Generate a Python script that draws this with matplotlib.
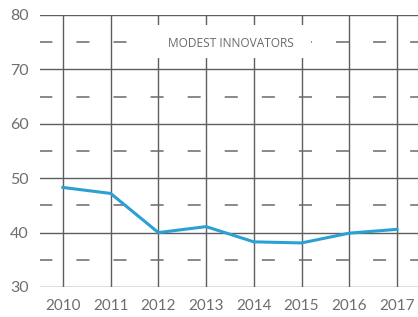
import matplotlib
matplotlib.use("Agg")
import matplotlib.pyplot as plt
from matplotlib.patches import Rectangle

years = [2010, 2011, 2012, 2013, 2014, 2015, 2016, 2017]
values = [48.3, 47.2, 40.0, 41.1, 38.3, 38.1, 39.9, 40.6]
yticks = [30, 40, 50, 60, 70, 80]
minor_levels = [35, 45, 55, 65, 75]
label = "MODEST INNOVATORS"

plt.rcParams['lines.scale_dashes'] = False
fig = plt.figure(figsize=(4.18, 3.17), dpi=100)
ax = fig.add_axes([40/418, 1 - 287/317, 1 - 40/418, (287 - 15)/317])

grid_c = '#5e5e5e'
for y in yticks:
    ax.axhline(y, color=grid_c, lw=1.0, zorder=1)
for x in years:
    ax.axvline(x, color=grid_c, lw=1.0, zorder=1)
for y in minor_levels:
    ax.axhline(y, color='#6a6a6a', lw=1.1, linestyle=(0.5, (9.4, 17.3)), zorder=1)

# white box behind the label
ax.add_patch(Rectangle((2011.6, 72.1), 3.6, 6.1, facecolor='white', edgecolor='none', zorder=2))
ax.text(2013.52, 74.8, label, ha='center', va='center', fontsize=8.6,
        color='#6a6a6a', family='Open Sans', zorder=3)

ax.plot(years, values, color='#2ba0d2', lw=2.2, zorder=4, solid_joinstyle='round')

ax.set_xlim(2009.52, 2017.44)
ax.set_ylim(30, 80)
ax.set_xticks(years)
ax.set_yticks(yticks)
ax.set_xticklabels([str(y) for y in years], fontsize=11, color='#6e6e6e', family='Lato')
ax.set_yticklabels([str(y) for y in yticks], fontsize=11.5, color='#6e6e6e', family='Lato')
ax.tick_params(axis='both', length=0)
ax.tick_params(axis='x', pad=9)
ax.tick_params(axis='y', pad=8)
for s in ax.spines.values():
    s.set_visible(False)

fig.savefig("out.png", dpi=100)
